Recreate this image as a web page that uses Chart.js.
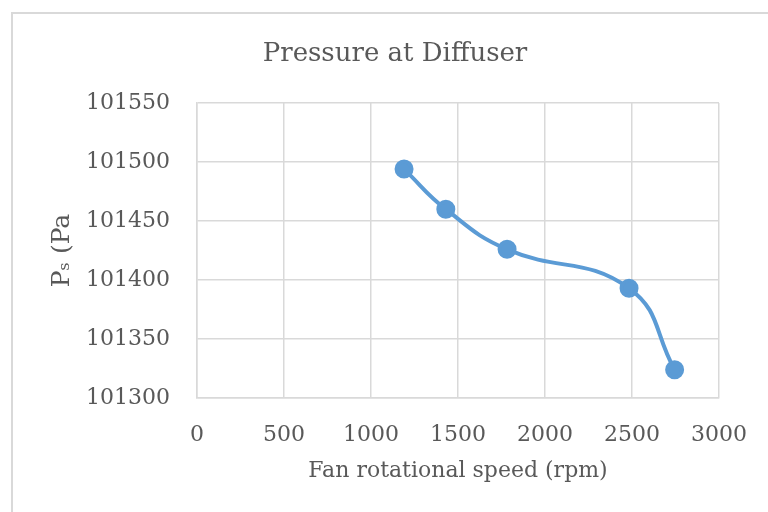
<!DOCTYPE html>
<html lang="en">
<head>
  <meta charset="UTF-8" />
  <title>Pressure at Diffuser</title>
  <script src="https://cdn.jsdelivr.net/npm/chart.js"></script>
  <style>
    html, body { margin: 0; padding: 0; background: #fff; overflow: hidden; }
    #frame { position: absolute; left: 11px; top: 12px; width: 800px; height: 560px; border: 2px solid #d9d9d9; box-sizing: border-box; }
    #chart { position: absolute; left: 0; top: 0; }
  </style>
</head>
<body>
  <div id="frame"></div>
  <canvas id="chart" width="768" height="512"></canvas>

  <script>
    // values
    const speed = [1190, 1430, 1782, 2483, 2745];        // rpm
    const pressure = [101494, 101460, 101426, 101393, 101324]; // Pa

    const points = speed.map((s, i) => ({ x: s, y: pressure[i] }));

    const serif = "'DejaVu Serif', serif";
    const gridColor = '#d9d9d9';
    const textColor = '#595959';

    // chart title sits over the whole frame, not the canvas centre
    const frameTitle = {
      id: 'frameTitle',
      afterDraw(chart) {
        const ctx = chart.ctx;
        ctx.save();
        ctx.fillStyle = textColor;
        ctx.font = "26px 'DejaVu Serif', serif";
        ctx.textAlign = 'center';
        ctx.textBaseline = 'middle';
        ctx.fillText('Pressure at Diffuser', 395, 54);
        ctx.restore();
      }
    };

    new Chart(document.getElementById('chart').getContext('2d'), {
      type: 'scatter',
      data: {
        datasets: [{
          data: points,
          showLine: true,
          borderColor: '#5b9bd5',
          backgroundColor: '#5b9bd5',
          borderWidth: 4,
          pointRadius: 7.5,
          pointHoverRadius: 7.5,
          tension: 0.45
        }]
      },
      options: {
        responsive: false,
        animation: false,
        layout: { padding: { left: 0, right: 49, top: 103, bottom: 0 } },
        plugins: {
          legend: { display: false },
          tooltip: { enabled: false },
          title: { display: false }
        },
        scales: {
          x: {
            type: 'linear',
            min: 0,
            max: 3000,
            ticks: {
              stepSize: 500,
              color: textColor,
              font: { family: serif, size: 22 },
              padding: 24,
              maxRotation: 0,
              callback: v => String(v)
            },
            grid: { color: gridColor, lineWidth: 1.5, drawTicks: false },
            border: { color: gridColor, width: 1.5 },
            title: {
              display: true,
              text: 'Fan rotational speed (rpm)',
              color: textColor,
              font: { family: serif, size: 22 },
              padding: { top: 0, bottom: 28 }
            },
            afterFit: scale => {
              scale.height = 114;
              scale.paddingLeft = 0;
              scale.paddingRight = 0;
            }
          },
          y: {
            min: 101300,
            max: 101550,
            ticks: {
              stepSize: 50,
              color: textColor,
              font: { family: serif, size: 22 },
              padding: 27,
              callback: v => String(v)
            },
            grid: { color: gridColor, lineWidth: 1.5, drawTicks: false },
            border: { color: gridColor, width: 1.5 },
            title: {
              display: true,
              text: 'P\u209B (Pa',
              color: textColor,
              font: { family: serif, size: 25 },
              padding: { top: 47, bottom: 0 }
            },
            afterFit: scale => { scale.width = 197; }
          }
        }
      },
      plugins: [frameTitle]
    });
  </script>
</body>
</html>
